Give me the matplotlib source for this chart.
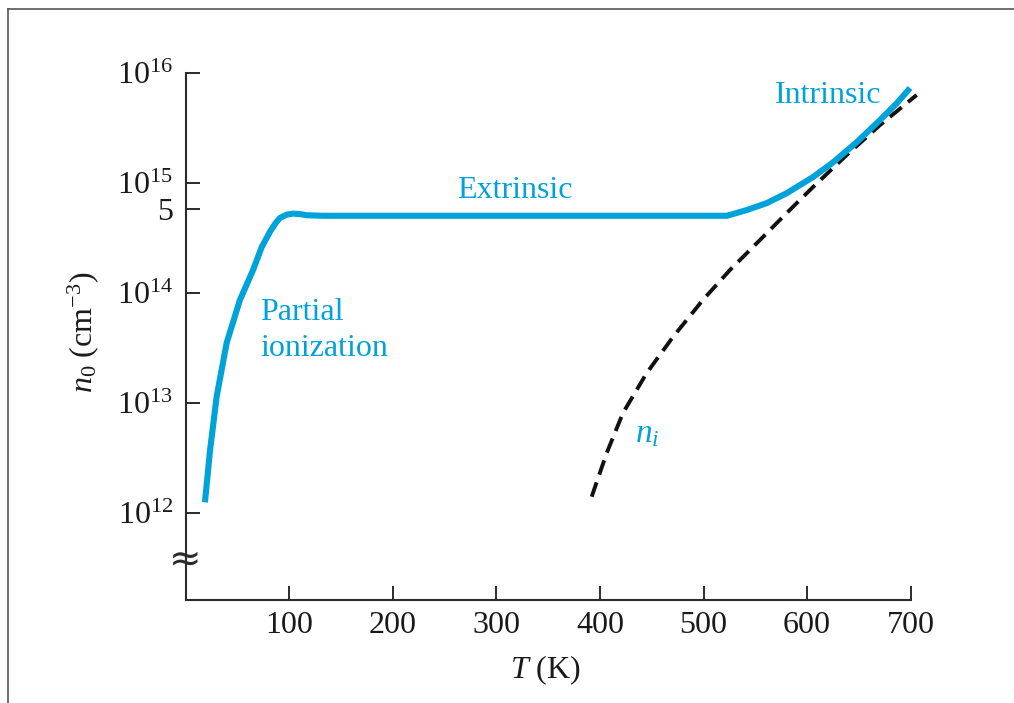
import matplotlib
matplotlib.use('Agg')
from matplotlib import pyplot as plt
from matplotlib.lines import Line2D
from matplotlib.ticker import NullLocator

# values (T in K, log10 of n0 in cm^-3)
t_n0 = [18.6, 23.5, 29.9, 39.6, 52.4, 65.0, 73.4, 81.4, 87.0, 91.0, 97.5, 103.6,
        110.0, 116.8, 132.6, 522.6, 541.7, 561.0, 580.3, 605.7, 625.0, 648.0,
        670.4, 686.8, 699.4]
log_n0 = [12.10, 12.57, 13.06, 13.55, 13.94, 14.21, 14.42, 14.56, 14.64, 14.685,
          14.715, 14.725, 14.72, 14.71, 14.705, 14.705, 14.757, 14.82, 14.91, 15.057,
          15.19, 15.375, 15.575, 15.73, 15.866]

t_ni = [392.0, 406.5, 422.2, 445.1, 470.5, 499.4, 525.5, 554.5, 580.3, 605.7,
        638.2, 670.4, 705.8]
log_ni = [12.151, 12.548, 12.912, 13.275, 13.603, 13.94, 14.212, 14.485, 14.73,
          14.966, 15.257, 15.53, 15.803]

x_ticks = [100, 200, 300, 400, 500, 600, 700]
y_ticks = [1e12, 1e13, 1e14, 5.8e14, 1e15, 1e16]
y_labels = [r'$10^{12}$', r'$10^{13}$', r'$10^{14}$', '5', r'$10^{15}$', r'$10^{16}$']

blue = '#00a3d9'
ink = '#2b2b2b'

plt.rcParams['font.family'] = ['Liberation Serif', 'DejaVu Serif']
plt.rcParams['mathtext.fontset'] = 'custom'
plt.rcParams['mathtext.rm'] = 'Liberation Serif'
plt.rcParams['mathtext.it'] = 'Liberation Serif:italic'

fig = plt.figure(figsize=(10.14, 7.03), dpi=100)
ax = fig.add_axes([0.1831, 0.1465, 0.715, 0.7492])

n0 = [10 ** v for v in log_n0]
ni = [10 ** v for v in log_ni]
ax.plot(t_n0, n0, color=blue, lw=4.4, solid_capstyle='butt', solid_joinstyle='round',
        clip_on=False, zorder=3)
ax.plot(t_ni, ni, color='#111111', lw=2.8, dashes=(3.9, 2.1), dash_capstyle='butt',
        clip_on=False, zorder=2)

ax.set_yscale('log')
ax.set_xlim(0, 700)
ax.set_ylim(10 ** 11.212, 1e16)
ax.set_xticks(x_ticks)
ax.set_xticklabels([str(v) for v in x_ticks])
ax.set_yticks(y_ticks)
ax.set_yticklabels(y_labels)
ax.yaxis.set_minor_locator(NullLocator())
for lbl in ax.get_yticklabels():
    if lbl.get_text() == '5':
        lbl.set_fontsize(15)

for side in ['top', 'right']:
    ax.spines[side].set_visible(False)
for side in ['left', 'bottom']:
    ax.spines[side].set_linewidth(1.5)
    ax.spines[side].set_color(ink)

ax.tick_params(axis='both', direction='in', length=10, width=1.4, color=ink,
               labelsize=23, labelcolor='#1a1a1a')
ax.tick_params(axis='y', pad=9)
ax.tick_params(axis='x', pad=8)

ax.set_xlabel(r'$T$ (K)', fontsize=23, color='#1a1a1a', va='center')
ax.xaxis.set_label_coords(0.4956, -0.133)
ax.set_ylabel(r'$n_0$ (cm$^{-3}$)', fontsize=23, color='#1a1a1a', va='center')
ax.yaxis.set_label_coords(-0.141, 0.509)

# axis break mark
ax.text(0, 10 ** 11.58, '\u2248', fontsize=28, family='DejaVu Sans', ha='center',
        va='center', color=ink, transform=ax.get_yaxis_transform(), clip_on=False,
        zorder=5)

ax.text(317.5, 10 ** 14.866, 'Extrinsic', color=blue, fontsize=23, ha='center', va='baseline')
ax.text(620.6, 10 ** 15.73, 'Intrinsic', color=blue, fontsize=23, ha='center', va='baseline')
ax.text(71.7, 10 ** 13.757, 'Partial', color=blue, fontsize=23, ha='left', va='baseline')
ax.text(71.7, 10 ** 13.433, 'ionization', color=blue, fontsize=23, ha='left', va='baseline')
ax.text(433.8, 10 ** 12.651, r'$n_i$', color=blue, fontsize=24, ha='left', va='baseline')

# frame of the original figure
fig.add_artist(Line2D([8 / 1014, 1.0], [1 - 8.5 / 703, 1 - 8.5 / 703],
                      transform=fig.transFigure, color='#555555', lw=1.2))
fig.add_artist(Line2D([8 / 1014, 8 / 1014], [0, 1 - 8.5 / 703],
                      transform=fig.transFigure, color='#555555', lw=1.2))

fig.savefig('out.png', dpi=100)
